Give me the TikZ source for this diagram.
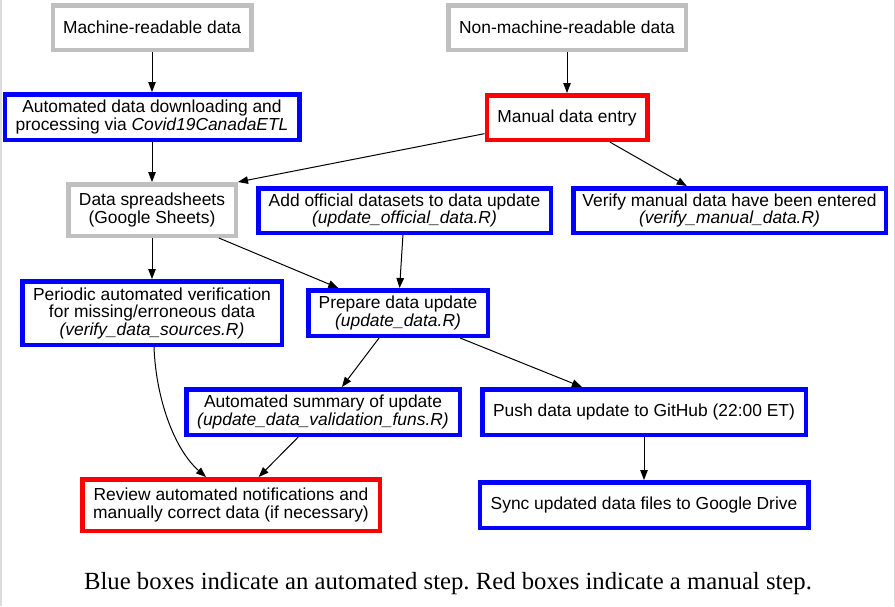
\documentclass[tikz,border=0pt]{standalone}
\usepackage{fontspec}
\setmainfont{Liberation Serif}
\newfontfamily\boxfont{Liberation Sans}
\usetikzlibrary{arrows.meta}
\definecolor{autoblue}{HTML}{0000FF}
\definecolor{manred}{HTML}{FF0000}
\definecolor{srcgrey}{HTML}{C0C0C0}
\definecolor{framegrey}{HTML}{DCDCDC}
\begin{document}
\frenchspacing
\begin{tikzpicture}[x=1pt,y=-1pt,
  box/.style={draw, line width=4.5pt, fill=white, inner sep=0pt, align=center,
    font=\boxfont\fontsize{17.4}{17.5}\selectfont},
  srcbox/.style={box, draw=srcgrey},
  autobox/.style={box, draw=autoblue},
  manbox/.style={box, draw=manred},
  arr/.style={-{Triangle[length=10pt,width=7.5pt]}, line width=1pt, black}]
\useasboundingbox (0,0) rectangle (895,606);
\fill[white] (0,0) rectangle (895,606);
\draw[framegrey, line width=1.5pt] (0.75,0) -- (0.75,606);
\draw[framegrey, line width=1pt] (894.5,0) -- (894.5,606);

\node[srcbox, minimum width=198.5pt, minimum height=44.5pt] (mr) at (152,27.5) {Machine-readable data};
\node[srcbox, minimum width=237.5pt, minimum height=44.5pt] (nmr) at (567,27.5) {Non-machine-readable data};
\node[autobox, minimum width=294.5pt, minimum height=45.5pt] (dl) at (152,117) {Automated data downloading and\\processing via \textit{Covid19CanadaETL}};
\node[manbox, minimum width=160.5pt, minimum height=44.5pt] (me) at (567,117.5) {Manual data entry};
\node[srcbox, minimum width=167.5pt, minimum height=51.5pt] (sh) at (152,210) {Data spreadsheets\\(Google Sheets)};
\node[autobox, minimum width=292.5pt, minimum height=44.5pt] (off) at (404.5,210.5) {Add official datasets to data update\\\textit{(update\_official\_data.R)}};
\node[autobox, minimum width=312.5pt, minimum height=44.5pt] (vm) at (729.5,210.5) {Verify manual data have been entered\\\textit{(verify\_manual\_data.R)}};
\node[autobox, minimum width=259.5pt, minimum height=63.5pt] (per) at (152,313) {Periodic automated verification\\for missing/erroneous data\\\textit{(verify\_data\_sources.R)}};
\node[autobox, minimum width=179.5pt, minimum height=45.5pt] (prep) at (398,313) {Prepare data update\\\textit{(update\_data.R)}};
\node[autobox, minimum width=273.5pt, minimum height=45.5pt] (sum) at (323,412) {Automated summary of update\\\textit{(update\_data\_validation\_funs.R)}};
\node[autobox, minimum width=323.5pt, minimum height=45.5pt] (push) at (644,412) {Push data update to GitHub (22:00 ET)};
\node[manbox, minimum width=297.5pt, minimum height=51.5pt] (rev) at (231,505) {Review automated notifications and\\manually correct data (if necessary)};
\node[autobox, minimum width=328.5pt, minimum height=45.5pt] (sync) at (644,505) {Sync updated data files to Google Drive};

\node[anchor=base, inner sep=0pt, font=\fontsize{24.7}{26}\selectfont] (cap) at (448,589) {Blue boxes indicate an automated step. Red boxes indicate a manual step.};

\draw[arr] (mr) -- (dl);
\draw[arr] (dl) -- (sh);
\draw[arr] (nmr) -- (me);
\draw[arr] (me) -- (sh.north east);
\draw[arr] (me) -- (vm);
\draw[arr] (sh) -- (per);
\draw[arr] (sh) -- (prep);
\draw[arr] (off) -- (prep);
\draw[arr] (prep) -- (sum);
\draw[arr] (prep) -- (push);
\draw[arr] (push) -- (sync);
\draw[arr] (sum) -- (rev);
\coordinate (c1) at (156,400);
\coordinate (c2) at (175,450);
\draw[arr] ([xshift=2pt]per.south) .. controls (c1) and (c2) .. ([xshift=-25pt]rev.north);
\end{tikzpicture}
\end{document}
